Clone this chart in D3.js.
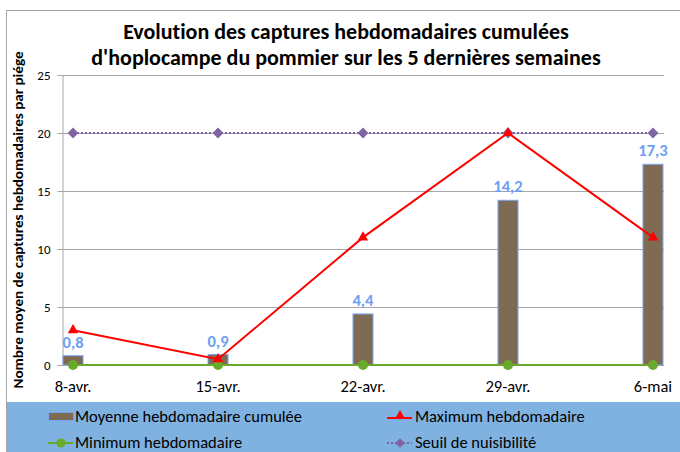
<!DOCTYPE html>
<html>
<head>
<meta charset="utf-8">
<script src="https://cdn.jsdelivr.net/npm/d3@7"></script>
<style>
  body { margin: 0; background: #fff; }
  svg { font-family: Calibri, Carlito, "Liberation Sans", "Open Sans", sans-serif; font-variant-ligatures: none; }
</style>
</head>
<body>
<svg width="680" height="452"></svg>
<script>
(function(){
    'use strict';

    // data
    const weeks = ["8-avr.", "15-avr.", "22-avr.", "29-avr.", "6-mai"];
    const moyenne = [0.8, 0.9, 4.4, 14.2, 17.3];
    const maximum = [3, 0.5, 11, 20, 11];
    const minimum = [0, 0, 0, 0, 0];
    const seuil = [20, 20, 20, 20, 20];
    const yTicks = [0, 5, 10, 15, 20, 25];

    const svg = d3.select("svg");

    // outer frame
    svg.append("rect")
        .attr("x", 6.5).attr("y", 10.5)
        .attr("width", 680).attr("height", 450)
        .attr("fill", "#fff").attr("stroke", "#a6a6a6");

    // title
    const title = svg.append("text")
        .attr("text-anchor", "middle")
        .style("font-size", "22px")
        .style("font-weight", "bold")
        .style("fill", "#000");
    title.append("tspan").attr("x", 346).attr("y", 39).text("Evolution des captures hebdomadaires cumulées");
    title.append("tspan").attr("x", 346).attr("y", 65).text("d'hoplocampe du pommier sur les 5 dernières semaines");

    const x = d3.scalePoint()
        .domain(weeks)
        .range([62, 664])
        .padding(0.076);

    const y = d3.scaleLinear()
        .domain([0, 25])
        .range([365, 75]);

    // gridlines
    svg.append("g")
        .selectAll("line")
        .data(yTicks)
        .join("line")
        .attr("x1", 62).attr("x2", 664)
        .attr("y1", d => Math.round(y(d)) + 0.5)
        .attr("y2", d => Math.round(y(d)) + 0.5)
        .attr("stroke", "#a6a6a6");

    // y axis
    const yAxis = svg.append("g")
        .attr("transform", "translate(62.5,0)")
        .call(d3.axisLeft(y).tickValues(yTicks).tickSize(5).tickPadding(7));
    yAxis.select(".domain").attr("stroke", "#a6a6a6");
    yAxis.selectAll(".tick line").attr("stroke", "#a6a6a6");
    yAxis.selectAll("text").style("font-size", "13px").style("fill", "#000")
        .style("font-family", "Calibri, Carlito, 'Liberation Sans', sans-serif");

    // y label
    svg.append("text")
        .attr("transform", "translate(23,220) rotate(-90)")
        .attr("text-anchor", "middle")
        .attr("textLength", 337)
        .attr("lengthAdjust", "spacingAndGlyphs")
        .style("font-size", "14.8px")
        .style("font-weight", "bold")
        .text("Nombre moyen de captures hebdomadaires par piége");

    // x axis labels
    svg.append("g")
        .selectAll("text")
        .data(weeks)
        .join("text")
        .attr("x", d => x(d))
        .attr("y", 392)
        .attr("text-anchor", "middle")
        .style("font-size", "16.5px")
        .text(d => d);

    // bars
    const bw = 20;
    svg.append("g")
        .selectAll("rect")
        .data(moyenne)
        .join("rect")
        .attr("x", (d, i) => x(weeks[i]) - bw / 2)
        .attr("y", d => y(d))
        .attr("width", bw)
        .attr("height", d => y(0) - y(d))
        .attr("fill", "#7f6a53")
        .attr("stroke", "#79a6f2")
        .attr("stroke-width", 1);

    // bar labels
    svg.append("g")
        .selectAll("text")
        .data(moyenne)
        .join("text")
        .attr("x", (d, i) => x(weeks[i]))
        .attr("y", d => y(d) - 8)
        .attr("text-anchor", "middle")
        .style("font-size", "16.5px")
        .style("font-weight", "bold")
        .style("fill", "#6c9ef5")
        .text(d => d3.format(".1f")(d).replace(".", ","));

    const line = d3.line()
        .x((d, i) => x(weeks[i]))
        .y(d => y(d));

    // seuil
    svg.append("path")
        .datum(seuil)
        .attr("d", line)
        .attr("fill", "none")
        .attr("stroke", "#7d5fa5")
        .attr("stroke-width", 2)
        .attr("stroke-dasharray", "2,2");
    svg.append("g")
        .selectAll("path")
        .data(seuil)
        .join("path")
        .attr("transform", (d, i) => `translate(${x(weeks[i])},${y(d)})`)
        .attr("d", d3.symbol(d3.symbolDiamond2, 75))
        .attr("fill", "#8064a2");

    // minimum
    svg.append("path")
        .datum(minimum)
        .attr("d", line)
        .attr("fill", "none")
        .attr("stroke", "#6aaa2a")
        .attr("stroke-width", 2);
    svg.append("g")
        .selectAll("circle")
        .data(minimum)
        .join("circle")
        .attr("cx", (d, i) => x(weeks[i]))
        .attr("cy", d => y(d))
        .attr("r", 5)
        .attr("fill", "#6aaa2a");

    // maximum
    svg.append("path")
        .datum(maximum)
        .attr("d", line)
        .attr("fill", "none")
        .attr("stroke", "#ff0000")
        .attr("stroke-width", 2);
    svg.append("g")
        .selectAll("path")
        .data(maximum)
        .join("path")
        .attr("transform", (d, i) => `translate(${x(weeks[i])},${y(d)})`)
        .attr("d", d3.symbol(d3.symbolTriangle, 48))
        .attr("fill", "#ff0000");

    // legend
    svg.append("rect")
        .attr("x", 7).attr("y", 402)
        .attr("width", 673).attr("height", 50)
        .attr("fill", "#7fb2e0");

    const leg = svg.append("g").style("font-size", "16.5px");

    leg.append("rect").attr("x", 48.5).attr("y", 412.5).attr("width", 25).attr("height", 8)
        .attr("fill", "#7f6a53").attr("stroke", "#79a6f2");
    leg.append("text").attr("x", 75).attr("y", 422).text("Moyenne hebdomadaire cumulée");

    leg.append("line").attr("x1", 387).attr("x2", 412).attr("y1", 418).attr("y2", 418)
        .attr("stroke", "#ff0000").attr("stroke-width", 2);
    leg.append("path").attr("transform", "translate(400,416)")
        .attr("d", d3.symbol(d3.symbolTriangle, 45)).attr("fill", "#ff0000");
    leg.append("text").attr("x", 415).attr("y", 422).text("Maximum hebdomadaire");

    leg.append("line").attr("x1", 48).attr("x2", 73).attr("y1", 443).attr("y2", 443)
        .attr("stroke", "#6aaa2a").attr("stroke-width", 2);
    leg.append("circle").attr("cx", 61).attr("cy", 443).attr("r", 4.5).attr("fill", "#6aaa2a");
    leg.append("text").attr("x", 75).attr("y", 448).text("Minimum hebdomadaire");

    leg.append("line").attr("x1", 387).attr("x2", 412).attr("y1", 443).attr("y2", 443)
        .attr("stroke", "#7d5fa5").attr("stroke-width", 2).attr("stroke-dasharray", "2,2");
    leg.append("path").attr("transform", "translate(400,443)")
        .attr("d", d3.symbol(d3.symbolDiamond2, 60)).attr("fill", "#8064a2");
    leg.append("text").attr("x", 415).attr("y", 448).text("Seuil de nuisibilité");
})();
</script>
</body>
</html>
